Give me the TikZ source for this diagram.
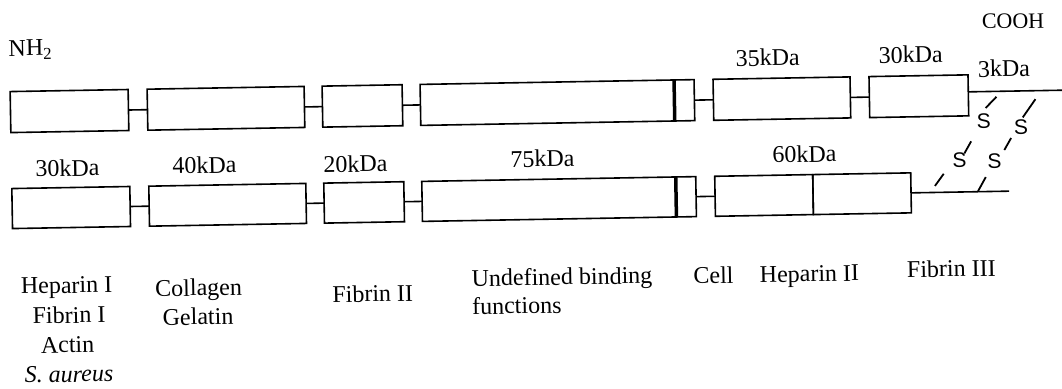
\documentclass[tikz,border=0pt]{standalone}
\usepackage{fontspec}
\setmainfont{Liberation Serif}
\newfontfamily\sulfont{Liberation Sans}
\begin{document}
\begin{tikzpicture}[x=1pt,y=-1pt,
  box/.style={draw, line width=1.6pt, inner sep=0pt, outer sep=0pt, minimum height=41pt},
  conn/.style={line width=1.6pt},
  bar/.style={line width=3.5pt},
  bond/.style={line width=1.8pt},
  lbl/.style={inner sep=0pt, anchor=base, font=\fontsize{24}{28}\selectfont},
  sul/.style={inner sep=0pt, font=\sulfont\fontsize{21}{24}\selectfont}]
\useasboundingbox (0,0) rectangle (1062,388);
\begin{scope}[rotate around={1:(531,194)}, transform shape]
% top chain
\node[box, minimum width=118pt] (t1) at (71,103) {};
\node[box, minimum width=157pt] (t2) at (227.5,103) {};
\node[box, minimum width=80pt] (t3) at (364,103) {};
\node[box, minimum width=254pt] (t4) at (549,103) {};
\node[box, minimum width=20pt] (t4s) at (686,103) {};
\node[box, minimum width=137pt] (t5) at (783.5,103) {};
\node[box, minimum width=99pt] (t6) at (920.5,103) {};
\draw[conn] (t1.east) -- (t2.west);
\draw[conn] (t2.east) -- (t3.west);
\draw[conn] (t3.east) -- (t4.west);
\draw[conn] (t4s.east) -- (t5.west);
\draw[conn] (t5.east) -- (t6.west);
\draw[bar] (t4.north east) -- (t4.south east);
\coordinate (tend) at (1072,99.5);
\draw[conn] (t6.east |- tend) -- (tend);
% bottom chain
\node[box, minimum width=118pt, minimum height=40pt] (b1) at (71,199.5) {};
\node[box, minimum width=157pt, minimum height=40pt] (b2) at (227.5,199.5) {};
\node[box, minimum width=80pt, minimum height=40pt] (b3) at (364,199.5) {};
\node[box, minimum width=254pt, minimum height=40pt] (b4) at (549,199.5) {};
\node[box, minimum width=20pt, minimum height=40pt] (b4s) at (686,199.5) {};
\node[box, minimum width=98pt, minimum height=40pt] (b5a) at (764,199.5) {};
\node[box, minimum width=98pt, minimum height=40pt] (b5b) at (862,199.5) {};
\draw[conn] (b1.east) -- (b2.west);
\draw[conn] (b2.east) -- (b3.west);
\draw[conn] (b3.east) -- (b4.west);
\draw[conn] (b4s.east) -- (b5a.west);
\draw[bar] (b4.north east) -- (b4.south east);
\coordinate (bend) at (1009,199.5);
\draw[conn] (b5b.east) -- (bend);
% disulfide bridges
\node[sul] (s1) at (985,129) {S};
\node[sul] (s2) at (960,167.5) {S};
\node[sul] (s3) at (1022,135.6) {S};
\node[sul] (s4) at (995,169) {S};
\draw[bond] (998,105) -- (987,116);
\draw[bond] (972,149) -- (965,161);
\draw[bond] (944,181) -- (935,193);
\draw[bond] (1037,108) -- (1024,126);
\draw[bond] (1012,146.4) -- (1005,158.3);
\draw[bond] (986,185) -- (978,199);
% terminal labels
\node[lbl, anchor=base west] (nh) at (11,47) {NH\textsubscript{2}};
\node[lbl, font=\fontsize{22}{26}\selectfont] (cooh) at (1016,36.8) {COOH};
% mass labels
\node[lbl] (k35) at (770,70) {35kDa};
\node[lbl] (k30t) at (913,69.5) {30kDa};
\node[lbl] (k3) at (1006,85) {3kDa};
\node[lbl] (k30) at (68,168) {30kDa};
\node[lbl] (k40) at (205,167.5) {40kDa};
\node[lbl] (k20) at (356,169) {20kDa};
\node[lbl] (k75) at (543,167) {75kDa};
\node[lbl] (k60) at (805,167) {60kDa};
% binding labels
\node[lbl] (hep1) at (65,285) {Heparin I};
\node[lbl] (fib1) at (67,315) {Fibrin I};
\node[lbl] (act) at (65,344.5) {Actin};
\node[lbl] (sau) at (66,374) {\textit{S. aureus}};
\node[lbl] (col) at (197,290) {Collagen};
\node[lbl] (gel) at (196,319) {Gelatin};
\node[lbl] (fib2) at (371,299) {Fibrin II};
\node[lbl, anchor=base west] (und) at (470,285.4) {Undefined binding};
\node[lbl, anchor=base west] (fun) at (470,313.4) {functions};
\node[lbl] (cell) at (712,286.5) {Cell};
\node[lbl] (hep2) at (808,286.5) {Heparin II};
\node[lbl] (fib3) at (950,284) {Fibrin III};
\end{scope}
\end{tikzpicture}
\end{document}
